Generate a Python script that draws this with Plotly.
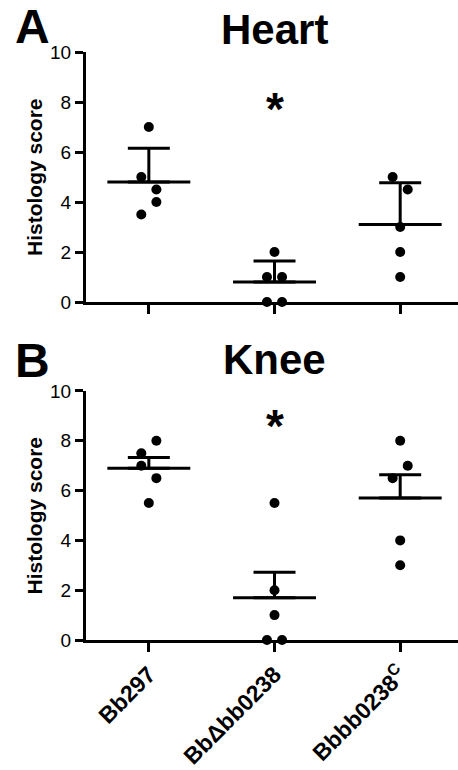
import plotly.graph_objects as go

# ---- data ----
groups = ["<b>Bb297</b>", "<b>BbΔbb0238</b>", "<b>Bbbb0238<sup>C</sup></b>"]
group_pos = [0, 1, 2]

heart_scores = [[7, 5, 4.5, 4, 3.5], [2, 1, 1, 0, 0], [5, 4.5, 3, 2, 1]]
heart_jitter = [[0, -0.06, 0.06, 0.06, -0.06], [0, -0.06, 0.06, -0.06, 0.06], [-0.06, 0.06, 0, 0, 0]]
heart_means = [4.8, 0.8, 3.1]
heart_err = [1.35, 0.84, 1.67]
heart_star = 8.05

knee_scores = [[8, 7.5, 7, 6.5, 5.5], [5.5, 2, 1, 0, 0], [8, 7, 6.5, 4, 3]]
knee_jitter = [[0.06, -0.06, -0.06, 0.06, 0], [0, 0, 0, -0.06, 0.06], [0, 0.06, -0.06, 0, 0]]
knee_means = [6.9, 1.7, 5.7]
knee_err = [0.43, 1.02, 0.94]
knee_star = 8.9

y_ticks = [0, 2, 4, 6, 8, 10]
FONT = "Liberation Sans, Arial, Helvetica, sans-serif"

fig = go.Figure()

panels = [
    ("Heart", "A", heart_scores, heart_jitter, heart_means, heart_err, heart_star, "x", "y", 0.988, 0.988),
    ("Knee", "B", knee_scores, knee_jitter, knee_means, knee_err, knee_star, "x2", "y2", 1.024, 1.006),
]

for title, letter, scores, jitter, means, err, star, xa, ya, ty, ly in panels:
    for i, (vals, jit) in enumerate(zip(scores, jitter)):
        fig.add_trace(go.Scatter(
            x=[group_pos[i] + j for j in jit], y=vals, mode="markers",
            marker=dict(color="black", size=10), cliponaxis=False,
            xaxis=xa, yaxis=ya, showlegend=False, hoverinfo="y"))
    fig.add_trace(go.Scatter(
        x=group_pos, y=means, mode="markers",
        marker=dict(color="black", size=1, opacity=0),
        error_x=dict(type="data", array=[0.33] * len(means), width=0, thickness=3, color="black"),
        error_y=dict(type="data", symmetric=False, array=err, arrayminus=[0] * len(err),
                     width=21, thickness=3, color="black"),
        cliponaxis=False, xaxis=xa, yaxis=ya, showlegend=False))
    # asterisk
    fig.add_annotation(x=1, y=star, xref=xa, yref=ya, text="<b>*</b>", showarrow=False,
                       font=dict(size=46, color="black", family=FONT), yanchor="middle",
                       yshift=-8)
    # panel title
    fig.add_annotation(x=1, y=ty, xref=xa, yref=ya + " domain", text="<b>%s</b>" % title,
                       showarrow=False, font=dict(size=42, color="black", family=FONT),
                       yanchor="bottom")
    # panel letter
    fig.add_annotation(x=-0.196, y=ly, xref=xa + " domain", yref=ya + " domain",
                       text="<b>%s</b>" % letter, showarrow=False,
                       font=dict(size=48, color="black", family=FONT),
                       xanchor="left", yanchor="bottom")
    # y title
    fig.add_annotation(x=-0.176, y=0.5, xref=xa + " domain", yref=ya + " domain",
                       text="<b>Histology score</b>", textangle=-90, showarrow=False,
                       font=dict(size=21, color="black", family=FONT))

axis_common = dict(showline=True, linecolor="black", linewidth=3, showgrid=False,
                   zeroline=False, ticks="outside", tickcolor="black", tickwidth=3,
                   automargin=False)

fig.update_layout(
    width=458, height=770,
    margin=dict(l=86, r=0, t=52, b=130),
    paper_bgcolor="white", plot_bgcolor="white",
    font=dict(family=FONT, color="black"),
    xaxis=dict(domain=[0, 1], range=[-0.5, 2.46], tickvals=group_pos, ticktext=groups,
               showticklabels=False, ticklen=9, anchor="y", **axis_common),
    yaxis=dict(domain=[0.5748, 1], range=[0, 10], tickvals=y_ticks, ticklen=8,
               tickfont=dict(size=19), anchor="x", **axis_common),
    xaxis2=dict(domain=[0, 1], range=[-0.5, 2.46], tickvals=group_pos, ticktext=groups,
                tickangle=-45, tickfont=dict(size=23), ticklen=9, anchor="y2", **axis_common),
    yaxis2=dict(domain=[0, 0.4235], range=[0, 10], tickvals=y_ticks, ticklen=8,
                tickfont=dict(size=19), anchor="x2", **axis_common),
)

fig.write_html("out.html", config={"displayModeBar": False},
               post_script="document.body.style.margin='0';document.body.style.overflow='hidden';")
